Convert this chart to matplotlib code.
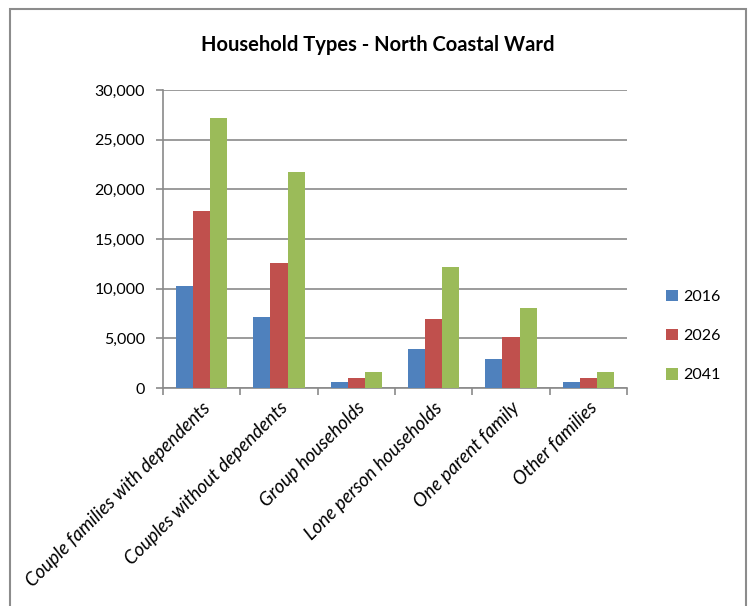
import numpy as np
import matplotlib
matplotlib.use("Agg")
import matplotlib.pyplot as plt
from matplotlib.patches import Rectangle
from matplotlib.ticker import FuncFormatter

plt.rcParams["font.family"] = ["Lato", "DejaVu Sans"]

# данные
categories = [
    "Couple families with dependents",
    "Couples without dependents",
    "Group households",
    "Lone person households",
    "One parent family",
    "Other families",
]
years = ["2016", "2026", "2041"]
v2016 = [10250, 7150, 570, 3900, 2900, 570]
v2026 = [17800, 12550, 980, 6950, 5150, 980]
v2041 = [27200, 21750, 1620, 12150, 8050, 1650]
colors = ["#4F81BD", "#C0504D", "#9BBB59"]

fig = plt.figure(figsize=(7.55, 6.06), dpi=100)
ax = fig.add_axes([163 / 755, 1 - 388 / 606, (627 - 163) / 755, (388 - 90) / 606])

x = np.arange(len(categories))
w = 0.22
for i, (vals, c, lab) in enumerate(zip([v2016, v2026, v2041], colors, years)):
    ax.bar(x + (i - 1) * w, vals, width=w, color=c, label=lab, zorder=3)

grid_c = "#8a8a8a"
ax.set_ylim(0, 30000)
ax.set_yticks(np.arange(0, 30001, 5000))
ax.yaxis.set_major_formatter(FuncFormatter(lambda v, _: f"{v:,.0f}"))
ax.set_xlim(-0.5, len(categories) - 0.5)
ax.grid(axis="y", color=grid_c, lw=1.2, zorder=0)
for s in ("top", "right"):
    ax.spines[s].set_visible(False)
for s in ("left", "bottom"):
    ax.spines[s].set_color(grid_c)
    ax.spines[s].set_linewidth(1.2)

# деления между группами, подписи по центру
ax.set_xticks(np.arange(-0.5, len(categories)), minor=True)
ax.set_xticks(x)
ax.set_xticklabels(categories, rotation=45, ha="right", rotation_mode="anchor",
                   fontsize=13.5, style="italic")
ax.tick_params(axis="x", which="major", length=0, pad=8)
ax.tick_params(axis="x", which="minor", length=5, color=grid_c, width=1.2)
ax.tick_params(axis="y", length=5, color=grid_c, width=1.2, labelsize=11.5, pad=8)

fig.text(0.5, 1 - 45 / 606, "Household Types - North Coastal Ward",
         ha="center", va="center", fontsize=14.5, fontweight="bold")

fig.legend(loc="center left", bbox_to_anchor=(652 / 755, 1 - 336 / 606),
           frameon=False, fontsize=11.5, handlelength=0.75, handleheight=0.75,
           handletextpad=0.3, labelspacing=1.55)

fig.patches.append(Rectangle((10 / 755, -0.05), 736 / 755, 1.05 - 9 / 606,
                             transform=fig.transFigure, fill=False,
                             edgecolor="#8c8c8c", lw=1.5))

fig.savefig("out.png", dpi=100)
